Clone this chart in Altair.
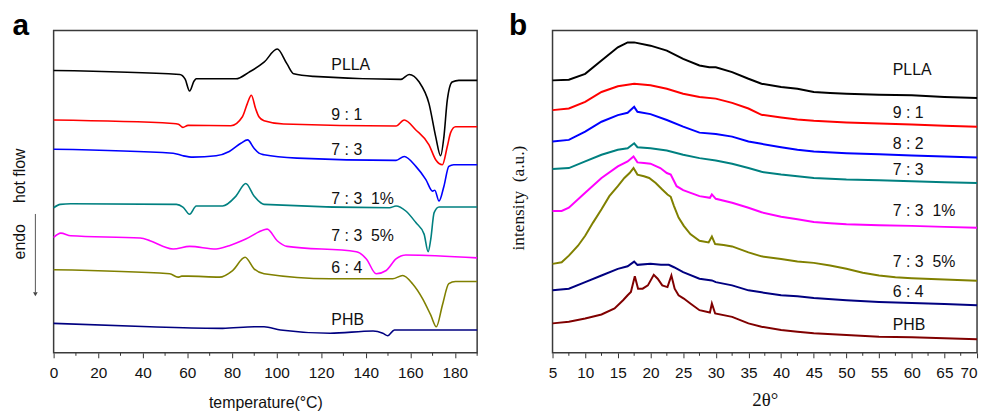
import altair as alt
import pandas as pd

SANS = "Liberation Sans"
SERIF = "Liberation Serif"

# ---------------- panel a : DSC ----------------
dsc_names = ["PLLA", "9 : 1", "7 : 3", "7 : 3  1%", "7 : 3  5%", "6 : 4", "PHB"]
dsc_labels = ["PLLA", "9 : 1", "7 : 3", "7 : 3\u00a0\u00a01%", "7 : 3\u00a0\u00a05%", "6 : 4", "PHB"]
dsc_colors = ["#000000", "#ff0000", "#0000ff", "#008080", "#ff00ff", "#808000", "#000080"]

dsc_T = [
    [0, 56.6, 59, 61, 63, 64, 81.8, 87.7, 94.4, 100.3, 104.7, 107.7, 116.6, 155.8, 159.5, 164, 168.4, 171.4, 173.6, 175.1, 176.6, 178.8, 181.8, 190],
    [0, 53.6, 56, 58, 60.3, 79.5, 84.7, 86.9, 88.7, 90.6, 92.1, 94.4, 103.2, 153.6, 157.3, 162.5, 168.4, 171.4, 174.4, 176.6, 178.1, 180.3, 190],
    [0, 53.6, 58, 62.5, 72.9, 78.8, 84, 87, 89.9, 92.1, 94.4, 109.2, 153.6, 157.3, 162.5, 167, 170, 171, 172.9, 175.1, 177.3, 179.5, 190],
    [0, 3, 7.7, 55.1, 58, 61, 64, 75.8, 81.8, 86.2, 89.9, 92.9, 94.4, 150.7, 153.6, 158, 162.5, 166.2, 168, 169.2, 170.7, 172.9, 190],
    [0, 3.2, 7.7, 38.8, 43.2, 49.2, 53.6, 61, 72.9, 78.8, 86.2, 94.4, 95.8, 100.3, 104.7, 135.8, 140.3, 144.7, 149.2, 153.6, 158, 190],
    [0, 52.1, 55.8, 57.5, 60.3, 74.4, 80.3, 85.9, 89.9, 94.4, 124, 152.1, 156.6, 161, 165.5, 169.2, 171.7, 174.4, 177.3, 180.3, 190],
    [0, 43.2, 75.8, 90, 94.4, 101.8, 124, 143.3, 147.7, 149.9, 152.9, 190],
]
dsc_H = [
    [284.7, 280.7, 276, 264, 274, 276.3, 276.3, 283, 293, 306.3, 291.3, 281.3, 278.7, 275.7, 280.7, 273, 251.3, 218, 198.7, 218, 254.7, 273, 274.7, 274.7],
    [234.7, 231.3, 230.5, 227.3, 229.3, 229, 238, 251.3, 259.7, 246.3, 238, 234, 230.7, 228.7, 234.7, 224.7, 209.7, 194.7, 189.7, 208, 222, 228, 228],
    [205.3, 201.3, 198.7, 197.3, 198.7, 203, 211.3, 214.7, 206.3, 201.3, 199.7, 196.3, 194, 198, 188, 174.7, 163, 164, 153, 168, 188, 189.7, 189.7],
    [146.3, 149.7, 150.3, 149.7, 147, 139.7, 148, 148, 158, 170.7, 158, 151.3, 149.7, 146.3, 148, 143, 131.3, 119.7, 102, 114.7, 141.3, 147, 147],
    [116.3, 120.7, 118, 115.7, 113, 107.3, 104.7, 107.3, 104.7, 108, 114.7, 124, 124.7, 113, 107.3, 102, 94.7, 79.7, 83, 94.7, 98.7, 95.7],
    [83.7, 79.7, 76.3, 77.3, 77.3, 76.3, 83, 96.3, 84.7, 79.7, 74.7, 74.7, 78, 69.7, 54.7, 38, 26.3, 48, 69.7, 72, 72],
    [29.7, 26.3, 24.7, 26.3, 26.3, 23, 19.7, 22, 19.7, 17.3, 23, 23],
]
dsc_label_T = [124.6] * 7
dsc_label_H = [289.7, 239.7, 204.7, 155.3, 117.3, 85.3, 33]
dsc_major = list(range(0, 181, 20))
dsc_minor = list(range(10, 191, 20))

# ---------------- panel b : XRD ----------------
xrd_names = ["PLLA", "9 : 1", "8 : 2", "7 : 3", "7 : 3  1%", "7 : 3  5%", "6 : 4", "PHB"]
xrd_labels = ["PLLA", "9 : 1", "8 : 2", "7 : 3", "7 : 3\u00a0\u00a01%", "7 : 3\u00a0\u00a05%", "6 : 4", "PHB"]
xrd_colors = ["#000000", "#ff0000", "#0000ff", "#008080", "#ff00ff", "#808000", "#000080", "#800000"]

xrd_X = [
    [5, 7.5, 10, 12.5, 15, 16.5, 17.5, 20, 22.5, 25, 27.5, 29, 30, 32.5, 35, 37, 40, 42.5, 45, 47.5, 50, 55, 60, 65, 70],
    [5, 7.5, 10, 12.5, 15, 17.5, 20, 22.5, 25, 27.5, 30, 32.5, 35, 37, 40, 42.5, 45, 50, 55, 60, 65, 70],
    [5, 7.5, 10, 12.5, 15, 16.5, 17.5, 18, 20, 22.5, 25, 27.5, 30, 32.5, 35, 37, 40, 42.5, 45, 50, 55, 60, 65, 70],
    [5, 7.5, 10, 12.5, 15, 16.5, 17.5, 18, 20, 22.5, 25, 27.5, 30, 32.5, 35, 37, 40, 42.5, 45, 50, 55, 60, 65, 70],
    [5, 6.4, 7.5, 10, 12.5, 15, 16.5, 17.4, 18, 19, 20, 21.5, 22.5, 23.1, 24, 25, 27.5, 29.1, 29.4, 30, 32.5, 35, 37, 40, 42.5, 45, 47.5, 50, 55, 60, 65, 70],
    [5, 6.4, 7.5, 8.9, 10, 11.2, 12.5, 13.7, 15, 16, 16.8, 17.4, 18, 19, 19.8, 20.8, 21.8, 22.6, 23.1, 23.6, 24.3, 25.1, 26.1, 27.5, 28.9, 29.4, 29.9, 31.2, 32.5, 35, 37, 40, 42.5, 45, 47.5, 50, 52.5, 55, 57.5, 60, 65, 70],
    [5, 7.5, 10, 12.5, 15, 16.5, 17.5, 18, 20, 21.6, 22.8, 23.6, 25, 27.5, 29.4, 30, 32.5, 35, 37, 40, 42.5, 45, 50, 55, 60, 65, 70],
    [5, 7.5, 10, 12.5, 14.5, 15.8, 16.5, 17, 17.6, 18.1, 18.8, 19.6, 20.5, 21.1, 21.8, 22.6, 23.2, 23.7, 24.3, 25.1, 26.1, 27.5, 29.1, 29.4, 29.9, 32.5, 35, 37, 40, 42.5, 45, 50, 55, 60, 65, 70],
]
xrd_H = [
    [274.7, 275.3, 281.3, 294.7, 308, 313, 313, 309.7, 304.7, 296.3, 289.7, 288, 288, 283, 276.3, 271.3, 268, 266.3, 263, 262, 261.3, 260.3, 259.7, 258, 257],
    [244.7, 246.3, 253, 263, 268.7, 271.3, 269.7, 266.3, 261.3, 258, 256.3, 252, 246.3, 240, 237.3, 235.3, 234, 232.3, 231.3, 230.3, 229, 228],
    [213, 214.7, 223, 233, 239.7, 242, 248, 243, 240.7, 234.7, 228, 222, 220.7, 218, 213, 210.7, 207.3, 204.7, 203, 201.3, 200.3, 199, 198, 197],
    [185.3, 186.3, 193, 199.7, 204.7, 206.3, 211.3, 207.3, 206.3, 204, 199.7, 196.3, 194, 190.7, 186.3, 182.5, 179.7, 178, 176.3, 174.7, 174, 173, 172, 171.3],
    [143, 143, 146.3, 161.3, 176.3, 188, 193, 198, 192, 191.3, 190.7, 186.3, 181.3, 179.7, 168, 164, 158, 156.3, 159.7, 155.3, 151.3, 146.3, 141.7, 137.3, 134.7, 132, 130.7, 129.7, 128.7, 128, 127, 126],
    [89.7, 91.3, 98, 108, 118, 131.3, 144.7, 158, 168, 176.3, 181.3, 186.3, 179.7, 178, 176.3, 171.3, 164.7, 159.7, 157.3, 148, 136.3, 128, 119.7, 113, 111.3, 117.3, 109.7, 108.7, 107.3, 101.3, 97.3, 94.7, 92, 90.7, 88, 84.7, 80.7, 78, 76.3, 75.3, 74, 72.7],
    [63, 64.7, 71.3, 78, 84.7, 87.3, 92, 88.7, 89.7, 88.7, 88.7, 86.3, 81.3, 74.7, 73, 71.3, 68, 63, 61, 58, 57, 55.3, 53, 51.3, 50.3, 49.3, 48],
    [29.7, 31.3, 34.7, 38.7, 44.7, 53, 58, 61.3, 77.3, 64.7, 64.7, 68, 78.7, 74.7, 68, 66.3, 78, 64.7, 58, 54.7, 49.7, 43, 40.7, 49.7, 39.7, 36.3, 29.7, 26.3, 23, 21.3, 19.7, 18, 16.3, 15.7, 14.7, 13.7],
]
xrd_label_X = [57.1] * 8
xrd_label_H = [284.7, 242, 210.7, 184, 143, 91.3, 61.3, 28]
xrd_major = list(range(5, 71, 5))
xrd_minor = [7.5 + 5 * i for i in range(13)]

H = 325


def long_table(names, xs, hs):
    rows = []
    for n, x, h in zip(names, xs, hs):
        assert len(x) == len(h), n
        for i, (a, b) in enumerate(zip(x, h)):
            rows.append({"series": n, "x": a, "h": b, "i": i})
    return pd.DataFrame(rows)


def panel(W, names, labels, colors, xs, hs, lab_x, lab_h, domain, major, minor,
          xtitle, xtitle_font, xtitle_size, tpad, letter, letter_x, ytexts, arrow, interp, sw):
    df = long_table(names, xs, hs)
    last = domain[1]
    xenc = alt.X("x:Q", scale=alt.Scale(domain=domain, nice=False, zero=False),
                 axis=alt.Axis(values=major, title=xtitle, format="d", grid=False, domain=False,
                               tickSize=5, tickWidth=1, tickColor="#333", labelFlush=False,
                               labelAlign=alt.ExprRef(expr=f"datum.value >= {last} ? 'right' : 'center'"),
                               labelFont=SANS, labelFontSize=15.5, labelColor="#111", labelPadding=8,
                               titleFont=xtitle_font, titleFontSize=xtitle_size, titleFontWeight="normal",
                               titleColor="#111", titlePadding=tpad))
    yenc = alt.Y("h:Q", scale=alt.Scale(domain=[0, 325], nice=False, zero=False), axis=None)
    col = alt.Color("series:N", scale=alt.Scale(domain=names, range=colors), legend=None)

    lines = alt.Chart(df).mark_line(interpolate=interp, strokeWidth=sw).encode(
        x=xenc, y=yenc, color=col, detail="series:N", order="i:Q")

    lab_df = pd.DataFrame({"x": lab_x, "h": lab_h, "label": labels})
    labs = alt.Chart(lab_df).mark_text(align="left", baseline="middle", font=SANS,
                                       fontSize=16, color="#111").encode(
        x=xenc, y=yenc, text="label:N")

    minor_df = pd.DataFrame({"x": minor})
    minor_ticks = alt.Chart(minor_df).mark_rule(color="#333", strokeWidth=1).encode(
        x=xenc, y=alt.value(H), y2=alt.value(H + 3))

    letter_df = pd.DataFrame({"t": [letter]})
    let = alt.Chart(letter_df).mark_text(align="left", baseline="alphabetic", font=SANS,
                                         fontSize=30, fontWeight="bold", color="#000").encode(
        x=alt.value(letter_x), y=alt.value(5), text="t:N")

    # invisible left anchor that fixes each panel's left bound
    anchor = alt.Chart(pd.DataFrame({"a": [0]})).mark_rule(strokeOpacity=0, strokeWidth=1).encode(
        x=alt.value(-44.5), y=alt.value(100), y2=alt.value(101))

    layers = [lines, labs, minor_ticks, let, anchor]
    for txt, xv, yv, font, size in ytexts:
        tdf = pd.DataFrame({"t": [txt]})
        layers.append(alt.Chart(tdf).mark_text(angle=270, align="center", baseline="middle",
                                               font=font, fontSize=size, color="#111").encode(
            x=alt.value(xv), y=alt.value(yv), text="t:N"))
    if arrow:
        adf = pd.DataFrame({"a": [0]})
        layers.append(alt.Chart(adf).mark_rule(color="#555", strokeWidth=1).encode(
            x=alt.value(-18.4), y=alt.value(185), y2=alt.value(264)))
        layers.append(alt.Chart(adf).mark_point(shape="triangle-down", filled=True, size=22,
                                                color="#444", opacity=1).encode(
            x=alt.value(-18.4), y=alt.value(266)))
    return alt.layer(*layers).properties(width=W, height=H)


pa = panel(427, dsc_names, dsc_labels, dsc_colors, dsc_T, dsc_H, dsc_label_T, dsc_label_H,
           [0, 190], dsc_major, dsc_minor, "temperature(°C)", SANS, 16, 14, "a", -41.5,
           [("hot flow", -34, 146.5, SANS, 16), ("endo", -34, 213, SANS, 16)], True,
           "monotone", 1.6)
pb = panel(428, xrd_names, xrd_labels, xrd_colors, xrd_X, xrd_H, xrd_label_X, xrd_label_H,
           [5, 70], xrd_major, xrd_minor, "2θ°", SERIF, 19, 10, "b", -44,
           [("intensity\u00a0\u00a0(a.u.)", -34, 169, SERIF, 17.5)], False,
           "linear", 2.0)

chart = alt.hconcat(pa, pb, spacing=26).resolve_scale(
    x="independent", y="independent", color="independent"
).properties(
    padding={"left": 0, "top": 1, "right": 0, "bottom": 0}
).configure_view(stroke="#3a3a3a", strokeWidth=1.5)

chart.save("out.html", embed_options={"renderer": "svg", "actions": False})
